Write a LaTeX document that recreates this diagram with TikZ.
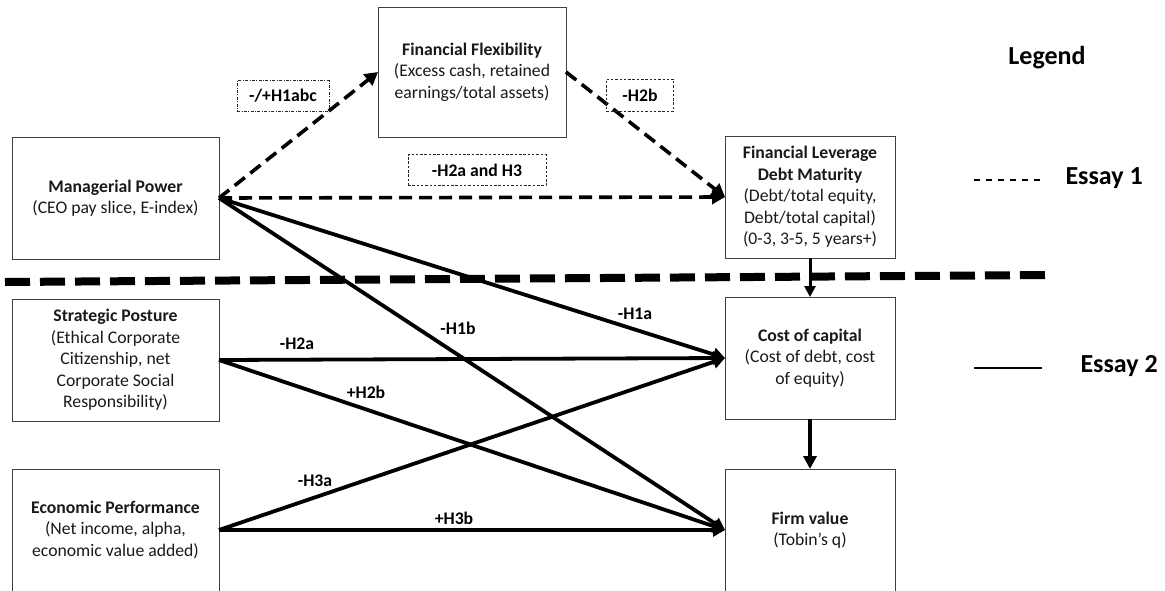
\documentclass[tikz,border=0pt]{standalone}
\usepackage{fontspec}
\setmainfont{Carlito}
\usetikzlibrary{arrows.meta}
\begin{document}
\begin{tikzpicture}[x=1pt,y=-1pt,
  box/.style={draw=black!75, line width=0.9pt, align=center, inner sep=0pt, outer sep=0pt,
    text=black!90, font=\fontsize{17.7}{21.5}\selectfont},
  bigbox/.style={box, minimum width=207pt, minimum height=122pt},
  rbox/.style={box, minimum width=170pt, minimum height=122pt},
  hlbl/.style={draw=black!85, line width=0.7pt, dash pattern=on 2.5pt off 1.8pt, inner sep=0pt,
    font=\bfseries\fontsize{17.7}{20}\selectfont},
  plbl/.style={inner sep=1pt, font=\bfseries\fontsize{17.7}{20}\selectfont},
  dasharrow/.style={line width=3.6pt, dash pattern=on 13pt off 7pt,
    -{Triangle[length=13pt,width=14pt]}},
  solidarrow/.style={line width=3.8pt, -{Triangle[length=12pt,width=13pt]}},
  legfont/.style={font=\bfseries\fontsize{26}{29}\selectfont}
]
\useasboundingbox (0,0) rectangle (1165,590);

% boxes
\node[bigbox] (mp) at (115.5,198) {\textbf{Managerial Power}\\(CEO pay slice, E-index)};
\node[box, minimum width=188pt, minimum height=130pt] (ff) at (472,72)
  {\textbf{Financial Flexibility}\\(Excess cash, retained\\earnings/total assets)};
\node[rbox] (fl) at (810,197)
  {\textbf{Financial Leverage}\\\textbf{Debt Maturity}\\(Debt/total equity,\\Debt/total capital)\\(0-3, 3-5, 5 years+)};
\node[bigbox] (sp) at (115.5,360)
  {\textbf{Strategic Posture}\\(Ethical Corporate\\Citizenship, net\\Corporate Social\\Responsibility)};
\node[rbox] (coc) at (810,358)
  {\textbf{Cost of capital}\\(Cost of debt, cost\\of equity)};
\node[bigbox] (ep) at (115.5,530)
  {\textbf{Economic Performance}\\(Net income, alpha,\\economic value added)};
\node[rbox] (fv) at (810,530)
  {\textbf{Firm value}\\(Tobin’s q)};

% separator
\coordinate (sepA) at (5,282);
\coordinate (sepB) at (1052,275);
\draw[line width=8pt, dash pattern=on 25pt off 10pt] (sepA) -- (sepB);

% dashed (essay 1) connectors
\draw[dasharrow] (mp.east) -- (ff.west);
\draw[dasharrow] (ff.east) -- (fl.west);
\draw[dasharrow] (mp.east) -- (fl.west);

% hypothesis boxes
\node[hlbl, dash pattern=on 3pt off 1.5pt on 0.8pt off 1.5pt, minimum width=92pt, minimum height=31pt] (h1abc) at (283,96) {-/+H1abc};
\node[hlbl, minimum width=67pt, minimum height=32pt] (h2b1) at (640,95) {-H2b};
\node[hlbl, minimum width=138pt, minimum height=31pt] (h2a3) at (477,170) {-H2a and H3};

% solid (essay 2) connectors
\draw[solidarrow] (mp.east) -- (coc.west);
\draw[solidarrow] (mp.east) -- (fv.west);
\draw[solidarrow] (sp.east) -- (coc.west);
\draw[solidarrow] (sp.east) -- (fv.west);
\draw[solidarrow] (ep.east) -- (coc.west);
\draw[solidarrow] (ep.east) -- (fv.west);
\draw[line width=3pt, -{Triangle[length=11pt,width=11pt]}] (fl.south) -- (coc.north);
\draw[line width=4pt, -{Triangle[length=13pt,width=13pt]}] (coc.south) -- (fv.north);

% path labels
\node[plbl] (lh1a) at (635,314) {-H1a};
\node[plbl] (lh1b) at (458,328) {-H1b};
\node[plbl] (lh2a) at (297,344) {-H2a};
\node[plbl] (lh2b) at (366,392) {+H2b};
\node[plbl] (lh3a) at (315,481) {-H3a};
\node[plbl] (lh3b) at (454,518) {+H3b};

% legend
\node[legfont] (leg) at (1047,58) {Legend};
\coordinate (l1a) at (974,180);
\coordinate (l1b) at (1042,180);
\draw[line width=1.6pt, dash pattern=on 6pt off 6pt] (l1a) -- (l1b);
\node[legfont, anchor=west] (e1) at (1062,178) {Essay 1};
\coordinate (l2a) at (974,368);
\coordinate (l2b) at (1042,368);
\draw[line width=1.6pt] (l2a) -- (l2b);
\node[legfont, anchor=west] (e2) at (1077,366) {Essay 2};
\end{tikzpicture}
\end{document}
